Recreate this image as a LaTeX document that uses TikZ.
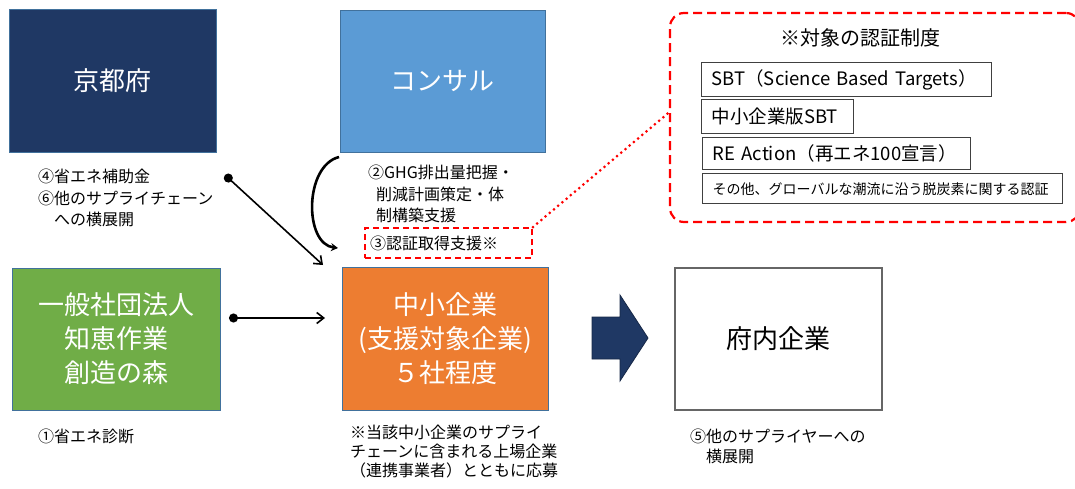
\documentclass[tikz,border=0pt]{standalone}
\usepackage{fontspec}
\setmainfont{Noto Sans CJK JP}
\usetikzlibrary{arrows.meta}
\definecolor{navy}{HTML}{1F3864}
\definecolor{skyb}{HTML}{5B9BD5}
\definecolor{leaf}{HTML}{70AD47}
\definecolor{orng}{HTML}{ED7D31}
\definecolor{edgeb}{HTML}{41719C}
\definecolor{redd}{HTML}{FF0000}
\definecolor{boxgray}{HTML}{404040}
\newcommand\bxfont{\fontsize{26}{34}\selectfont}
\newcommand\lbfont{\fontsize{16}{21.5}\selectfont}
\begin{document}
\begin{tikzpicture}[x=1pt,y=-1pt,
  cbox/.style={minimum width=206pt, minimum height=142pt, inner sep=0pt,
    align=center, font=\bxfont, text=white, draw=edgeb, line width=0.8pt},
  lab/.style={font=\lbfont, align=left, anchor=north west, inner sep=0pt},
  lbox/.style={draw=boxgray, line width=1.4pt, anchor=north west, inner xsep=10pt,
    inner ysep=0pt, align=left, font=\fontsize{18.5}{20}\selectfont},
  reddash/.style={draw=redd, line width=2.2pt, dash pattern=on 9pt off 5pt},
  reddot/.style={draw=redd, line width=3pt, line cap=round, dash pattern=on 0pt off 5.5pt},
  conn/.style={line width=1.6pt, {Circle[length=9pt]}-{Straight Barb[length=7pt,width=11pt]}},
  curv/.style={line width=2.6pt, -{Stealth[length=7pt,width=8pt]}}
]
\useasboundingbox (0,0) rectangle (1075,489);
% main boxes
\node[cbox, fill=navy, minimum width=207pt, minimum height=143pt] (kyoto) at (112.5,80.5) {京都府};
\node[cbox, fill=skyb, minimum width=205pt] (consul) at (442.5,81) {コンサル};
\node[cbox, fill=leaf, minimum width=208pt] (chie) at (116,339) {一般社団法人\\知恵作業\\創造の森};
\node[cbox, fill=orng, minimum height=143pt] (chu) at (445,338.5) {中小企業\\(支援対象企業)\\５社程度};
\node[cbox, fill=white, text=black, draw=boxgray!80, line width=1.6pt, minimum width=207pt] (funai) at (778.5,339) {府内企業};
% big arrow
\fill[navy] (592,317) -- (620,317) -- (620,295) -- (648,338) -- (620,381) -- (620,359) -- (592,359) -- cycle;
\draw[navy!70!black, line width=0.8pt] (592,317) -- (620,317) -- (620,295) -- (648,338) -- (620,381) -- (620,359) -- (592,359) -- cycle;
% labels
\node[lab] (l4) at (38,169) {④省エネ補助金\\⑥他のサプライチェーン\\\hspace*{1em}への横展開};
\node[lab] (l2) at (368,165) {②GHG排出量把握・\\\hspace*{0.5em}削減計画策定・体\\\hspace*{0.5em}制構築支援};
\node[reddash, dash pattern=on 6pt off 4pt, line width=1.8pt, font=\lbfont, text width=157pt,
  inner xsep=5pt, inner ysep=0pt, minimum height=30pt, align=left] (l3) at (448.5,243) {③認証取得支援※};
\node[lab] (l1) at (38,429) {①省エネ診断};
\node[lab, font=\fontsize{16}{19}\selectfont] (lnote) at (350,425) {※当該中小企業のサプライ\\チェーンに含まれる上場企業\\（連携事業者）とともに応募};
\node[lab, font=\fontsize{16}{20}\selectfont] (l5) at (690,429) {⑤他のサプライヤーへの\\\hspace*{1em}横展開};
% certification panel
\node[reddash, rounded corners=14pt, minimum width=410pt, minimum height=209pt, inner sep=0pt] (cert) at (875,117.5) {};
\node[font=\fontsize{20}{22}\selectfont] (ttl) at (860,38) {※対象の認証制度};
\node[lbox, text width=270pt, minimum height=34pt] (sbt) at (701,62) {SBT（Science Based Targets）};
\node[lbox, text width=132pt, minimum height=34pt] (sme) at (701,99) {中小企業版SBT};
\node[lbox, text width=248pt, minimum height=32pt] (rea) at (702,137) {RE Action（再エネ100宣言）};
\node[lbox, text width=340pt, minimum height=30pt, font=\fontsize{14}{16}\selectfont] (oth) at (702,173) {その他、グローバルな潮流に沿う脱炭素に関する認証};
% connectors
\coordinate (d1) at (225,175);
\coordinate (t1) at (323,265);
\coordinate (d2) at (229,318);
\coordinate (t2) at (325,318);
\coordinate (c1) at (339,157);
\coordinate (c2) at (338,248);
\draw[conn] (d1) -- (t1);
\draw[conn] (d2) -- (t2);
\draw[curv] (c1) .. controls (304,166) and (304,244) .. (c2);
\draw[reddot] (l3.north east) -- ([yshift=5pt]cert.west);
\end{tikzpicture}
\end{document}
